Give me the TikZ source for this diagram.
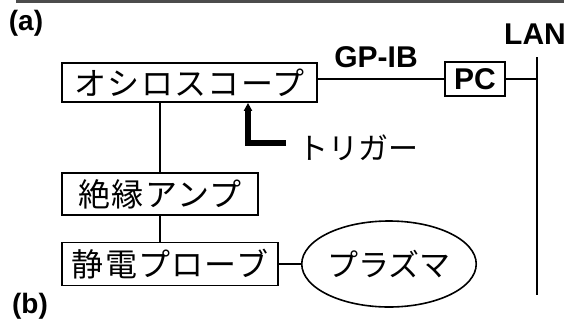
\documentclass[tikz,border=0pt]{standalone}
\usepackage{fontspec}
\setmainfont{Liberation Sans}
\newfontfamily\jp{Noto Sans CJK JP}[LetterSpace=4]
\newfontfamily\jpn{Noto Sans CJK JP}
\usetikzlibrary{arrows.meta,shapes.geometric}
\begin{document}
\begin{tikzpicture}[x=1pt,y=-1pt,
  box/.style={draw,line width=1.8pt,inner sep=0pt,font=\jp\fontsize{32}{32}\selectfont},
  lbl/.style={inner sep=0pt,font=\bfseries\fontsize{30}{30}\selectfont},
  tag/.style={inner sep=0pt,font=\bfseries\fontsize{28}{28}\selectfont},
  wire/.style={line width=1.6pt}]
\useasboundingbox (0,0) rectangle (574,322);
\fill[black!70] (16,0) rectangle (564,3);
\node[tag] (a) at (26,23) {(a)};
\node[tag] (b) at (30,306) {(b)};
\node[lbl] (lan) at (535,34) {LAN};
\node[lbl] (gpib) at (376,57.5) {GP-IB};
\node[box,minimum width=255pt,minimum height=39pt] (osc) at (189.5,82.5) {オシロスコープ};
\node[box,font=\bfseries\fontsize{30}{30}\selectfont,minimum width=60pt,minimum height=34pt] (pc) at (475,79) {PC};
\coordinate (lantop) at (537,57);
\coordinate (lanbot) at (537,295);
\draw[wire] (lantop) -- (lanbot);
\draw[wire] (pc.west -| osc.east) -- (pc.west);
\draw[wire] (pc.east) -- (pc.east -| lantop);
\node[box,minimum width=196pt,minimum height=42pt] (amp) at (160,194) {絶縁アンプ};
\node[box,minimum width=216pt,minimum height=43pt] (probe) at (170,264) {静電プローブ};
\node[box,ellipse,line width=1.6pt,minimum width=152pt,minimum height=86pt,font=\jpn\fontsize{31}{31}\selectfont] (plasma) at (389,264) {プラズマ};
\draw[wire] (amp.north) -- (amp.north |- osc.south);
\draw[wire] (amp.south) -- (amp.south |- probe.north);
\draw[wire] (probe.east) -- (plasma.west);
\node[anchor=west,inner sep=0pt,font=\jpn\fontsize{30}{30}\selectfont] (trig) at (298,148) {トリガー};
\coordinate (tend) at (286,143);
\coordinate (tcorner) at (248,143);
\draw[line width=5.5pt,line join=miter,-{Triangle[width=8pt,length=8pt]}] (tend) -- (tcorner) -- (tcorner |- osc.south);
\end{tikzpicture}
\end{document}
